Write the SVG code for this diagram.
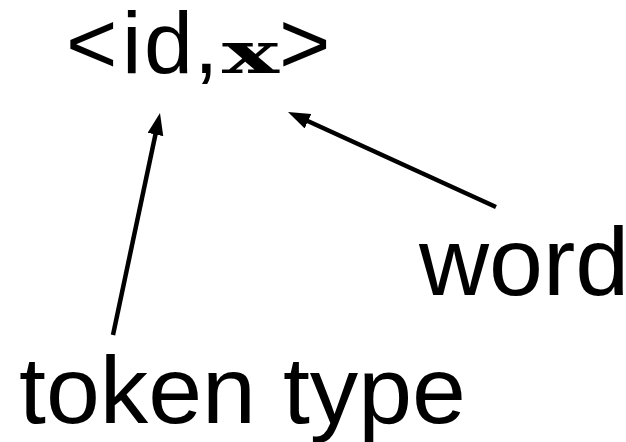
<svg xmlns="http://www.w3.org/2000/svg" width="626" height="442" viewBox="0 0 626 442">
<style>
.lbl{font-family:"Liberation Sans",Arial,sans-serif;fill:#000}
.code{font-family:"DejaVu Serif","Liberation Serif",serif;font-weight:bold;fill:#000}
.conn{stroke:#000;stroke-width:4.5;fill:none}
</style>
<defs>
<marker id="ah" markerUnits="userSpaceOnUse" markerWidth="24" markerHeight="18" refX="10" refY="8" orient="auto">
<path d="M0,0 L22,8 L0,16 z" fill="#000"/>
</marker>
</defs>
<rect width="626" height="442" fill="#fff"/>
<g id="token">
<text class="lbl" x="66" y="73" font-size="88">&lt;</text>
<text class="lbl" x="122" y="73" font-size="88">i</text>
<text class="lbl" x="144" y="73" font-size="88">d</text>
<text class="lbl" x="194" y="73" font-size="88">,</text>
<text class="code" x="222" y="73" font-size="58" textLength="57" lengthAdjust="spacingAndGlyphs">x</text>
<text class="lbl" x="279" y="73" font-size="88">&gt;</text>
</g>
<g id="word">
<text class="lbl" x="419" y="295" font-size="97">word</text>
</g>
<g id="token-type">
<text class="lbl" x="19" y="423" font-size="94" textLength="447" lengthAdjust="spacingAndGlyphs">token type</text>
</g>
<g id="connectors">
<line class="conn" x1="113" y1="335" x2="157.5" y2="124.7" marker-end="url(#ah)"/>
<line class="conn" x1="496" y1="207" x2="298.9" y2="117" marker-end="url(#ah)"/>
</g>
</svg>
